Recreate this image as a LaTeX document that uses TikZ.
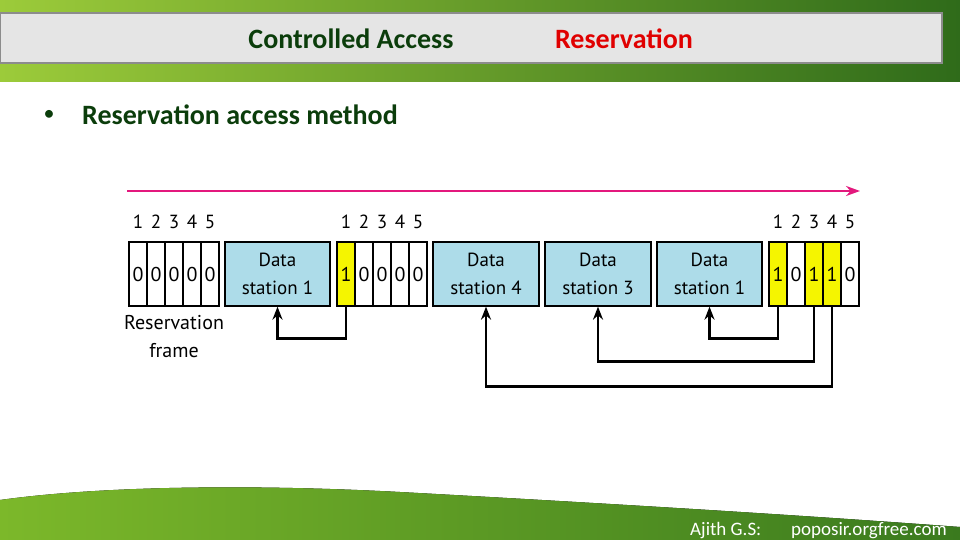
\documentclass[tikz,border=0pt]{standalone}
\usepackage{fontspec}
\setmainfont{Carlito}
\newfontfamily\diag{PT Sans}
\usetikzlibrary{arrows.meta}
\definecolor{titlegreen}{HTML}{0B3D0B}
\definecolor{resred}{HTML}{E00000}
\definecolor{boxblue}{HTML}{ADDCE9}
\definecolor{pinkline}{HTML}{E3187D}
\definecolor{celly}{HTML}{F5F500}
\definecolor{grassA}{HTML}{9CCB3A}
\definecolor{grassB}{HTML}{A9D146}
\definecolor{grassC}{HTML}{2F6B1A}
\definecolor{hillA}{HTML}{7CB82A}
\definecolor{hillB}{HTML}{6DAA22}
\definecolor{hillC}{HTML}{3A7A1E}
\begin{document}
\begin{tikzpicture}[x=1pt,y=-1pt,
  cell/.style={draw=black, line width=1.3pt, fill=white, minimum width=18pt, minimum height=64pt, inner sep=0pt, font=\diag\fontsize{20}{20}\selectfont},
  ycell/.style={cell, fill=celly},
  dbox/.style={draw=black, line width=1.3pt, fill=boxblue, minimum width=105pt, minimum height=64pt, inner sep=0pt, align=center, font=\diag\fontsize{19}{28}\selectfont},
  num/.style={font=\diag\fontsize{19}{19}\selectfont, inner sep=0pt},
  link/.style={line width=2.5pt, -{Stealth[length=13pt,width=10pt]}},
  title/.style={font=\bfseries\fontsize{28}{28}\selectfont, inner sep=0pt},
  foot/.style={font=\fontsize{19}{19}\selectfont, text=white, inner sep=0pt}]
\useasboundingbox (0,0) rectangle (960,540);
\fill[white] (0,0) rectangle (960,540);
% top grass band
\fill[left color=grassA, middle color=grassB, right color=grassC] (0,0) rectangle (960,82);
\filldraw[fill=black!10, draw=black!45, line width=1.5pt] (0,13) rectangle (942,63);
\node[title, text=titlegreen] (t1) at (351,39) {Controlled Access};
\node[title, text=resred] (t2) at (624,39) {Reservation};
% bullet
\node[font=\fontsize{22}{22}\selectfont, text=titlegreen, inner sep=0pt] (bul) at (49,115) {•};
\node[title, text=titlegreen, anchor=west] (sub) at (82,115) {Reservation access method};
% bottom hill
\fill[left color=hillA, middle color=hillB, right color=hillC] (0,500) .. controls (100,486) and (250,484) .. (400,492) .. controls (600,503) and (800,515) .. (960,527) -- (960,540) -- (0,540) -- cycle;
\node[foot, anchor=west] (f1) at (690,531) {Ajith G.S:};
\node[foot, anchor=west] (f2) at (791,531) {poposir.orgfree.com};
% time arrow
\coordinate (a0) at (127,191);
\coordinate (a1) at (860,191);
\draw[pinkline, line width=2.5pt, -{Stealth[length=14pt,width=10pt]}] (a0) -- (a1);
% frame 1
\foreach \i/\x in {1/138,2/156,3/174,4/192,5/210} {
  \node[cell] (fa\i) at (\x,274) {0};
  \node[num] (na\i) at (\x,222) {\i};
}
\node[num, align=center, font=\diag\fontsize{20}{28}\selectfont] (rf) at (174,337) {Reservation\\frame};
\node[dbox] (ds1a) at (277.5,274) {Data\\station 1};
% frame 2
\node[ycell] (fb1) at (346,274) {1};
\foreach \i/\x in {2/364,3/382,4/400,5/418} {
  \node[cell] (fb\i) at (\x,274) {0};
}
\foreach \i/\x in {1/346,2/364,3/382,4/400,5/418} {
  \node[num] (nb\i) at (\x,222) {\i};
}
\node[dbox, minimum width=106pt] (ds4) at (486,274) {Data\\station 4};
\node[dbox, minimum width=106pt] (ds3) at (598,274) {Data\\station 3};
\node[dbox] (ds1b) at (709.5,274) {Data\\station 1};
% frame 3
\node[ycell] (fc1) at (778,274) {1};
\node[cell] (fc2) at (796,274) {0};
\node[ycell] (fc3) at (814,274) {1};
\node[ycell] (fc4) at (832,274) {1};
\node[cell] (fc5) at (850,274) {0};
\foreach \i/\x in {1/778,2/796,3/814,4/832,5/850} {
  \node[num] (nc\i) at (\x,222) {\i};
}
% connectors
\draw[link] (fb1.south) -- ++(0,32) -| (ds1a.south);
\draw[link] (fc1.south) -- ++(0,32) -| (ds1b.south);
\draw[link] (fc3.south) -- ++(0,55) -| (ds3.south);
\draw[link] (fc4.south) -- ++(0,80) -| (ds4.south);
\end{tikzpicture}
\end{document}
